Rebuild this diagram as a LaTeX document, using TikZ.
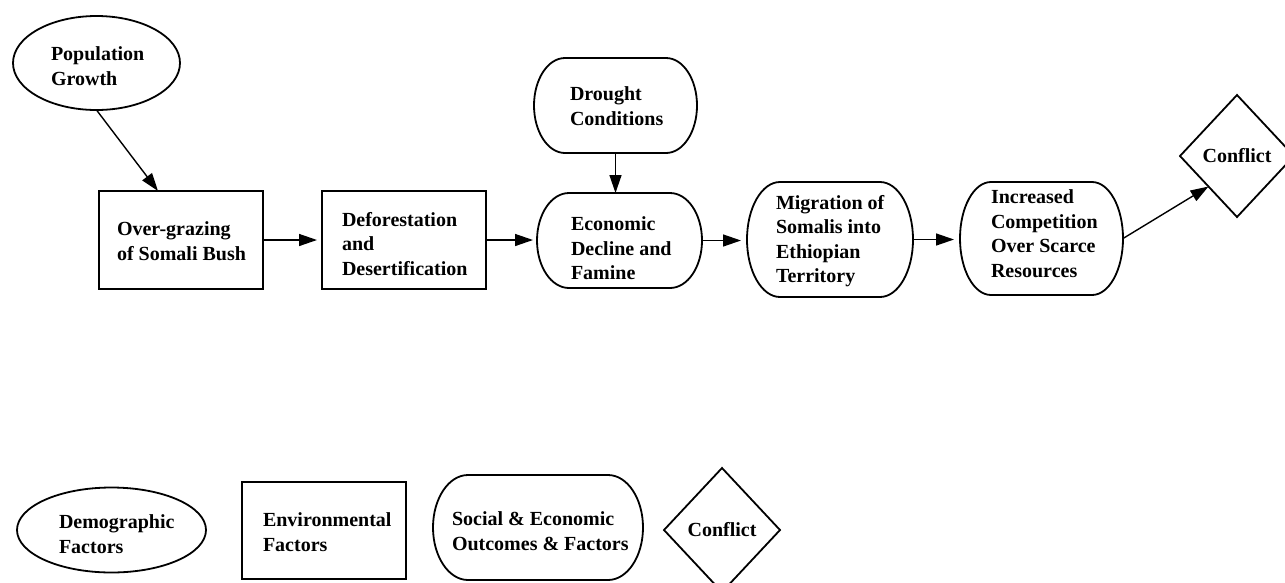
\documentclass[tikz,border=0pt]{standalone}
\usepackage{fontspec}
\setmainfont{Liberation Serif}
\usetikzlibrary{shapes.geometric,arrows.meta,calc}

\tikzset{
  lbl/.style={font=\fontsize{20}{24.5}\selectfont\bfseries, align=left, inner sep=0pt, outer sep=0pt},
  outline/.style={draw, line width=1.8pt},
  boxshape/.style={outline, rectangle, inner sep=0pt, outer sep=0pt},
  ovalshape/.style={outline, ellipse, inner sep=0pt, outer sep=0pt},
  softshape/.style={rectangle, inner sep=0pt, outer sep=0pt},
  diamondshape/.style={outline, diamond, inner sep=0pt, outer sep=0pt, lbl},
  link/.style={line width=1.4pt, -{Triangle[length=18pt,width=12pt]}},
}

% outline of a box with elliptic left and right ends
\newcommand\softoutline[2]{%
  \draw[outline] let \p1=(#1.north west), \p2=(#1.south east), \n1={(\y1-\y2)/2} in
    (\x1+#2,\y1) -- (\x2-#2,\y1)
    arc[start angle=90, end angle=-90, x radius=#2, y radius=\n1]
    -- (\x1+#2,\y2)
    arc[start angle=270, end angle=90, x radius=#2, y radius=\n1] -- cycle;}

\begin{document}
\begin{tikzpicture}[x=1pt, y=-1pt]
  \fill[white] (0,0) rectangle (1285,582);
  \useasboundingbox (0,0) rectangle (1285,582);

  % ---- causal chain ----
  \node[ovalshape, minimum width=167pt, minimum height=94pt] (pop) at (96.5,63) {};
  \node[lbl, anchor=north west] (poptxt) at (51,47) {Population\\Growth};

  \node[boxshape, minimum width=164pt, minimum height=98pt] (over) at (181,240) {};
  \node[lbl, anchor=north west] (overtxt) at (117,222) {Over-grazing\\of Somali Bush};

  \node[boxshape, minimum width=164pt, minimum height=98pt] (defor) at (404,240) {};
  \node[lbl, anchor=north west] (defortxt) at (342,212) {Deforestation\\and\\Desertification};

  \node[softshape, minimum width=163pt, minimum height=95pt] (drought) at (615.5,105.5) {};
  \softoutline{drought}{31pt}
  \node[lbl, anchor=north west] (droughttxt) at (570,87) {Drought\\Conditions};

  \node[softshape, minimum width=165pt, minimum height=95pt] (econ) at (619.5,240.5) {};
  \softoutline{econ}{32pt}
  \node[lbl, anchor=north west] (econtxt) at (571,217) {Economic\\Decline and\\Famine};

  \node[softshape, minimum width=166pt, minimum height=115pt] (migr) at (830,239.5) {};
  \softoutline{migr}{33pt}
  \node[lbl, anchor=north west] (migrtxt) at (776,195) {Migration of\\Somalis into\\Ethiopian\\Territory};

  \node[softshape, minimum width=163pt, minimum height=113pt] (incr) at (1041.5,238.5) {};
  \softoutline{incr}{31pt}
  \node[lbl, anchor=north west] (incrtxt) at (991,190) {Increased\\Competition\\Over Scarce\\Resources};

  \node[diamondshape, minimum width=114pt, minimum height=122pt] (conf) at (1237,156) {Conflict};

  % ---- connectors ----
  \draw[link] (pop.south) -- ($(over.north)+(-23,0)$);
  \draw[link, shorten >=5pt] (over.east) -- (defor.west);
  \draw[link, shorten >=4pt] (defor.east) -- (defor.east -| econ.west);
  \draw[link] (drought.south) -- (drought.south |- econ.north);
  \draw[link, shorten >=6pt] (econ.east) -- (econ.east -| migr.west);
  \draw[link, shorten >=6pt] (migr.east) -- (migr.east -| incr.west);
  \draw[link] (incr.east) -- (conf.south west);

  % ---- key ----
  \node[ovalshape, minimum width=189pt, minimum height=85pt] (kdemo) at (111.5,530) {};
  \node[lbl, anchor=north west] (kdemotxt) at (59,515) {Demographic\\Factors};

  \node[boxshape, minimum width=164pt, minimum height=97pt] (kenv) at (324,530.5) {};
  \node[lbl, anchor=north west] (kenvtxt) at (263,513) {Environmental\\Factors};

  \node[softshape, minimum width=210pt, minimum height=105pt] (ksoc) at (538,527.5) {};
  \softoutline{ksoc}{35pt}
  \node[lbl, anchor=north west] (ksoctxt) at (452,512) {Social \& Economic\\Outcomes \& Factors};

  \node[diamondshape, minimum width=116pt, minimum height=124pt] (kconf) at (722,530) {Conflict};
\end{tikzpicture}
\end{document}
